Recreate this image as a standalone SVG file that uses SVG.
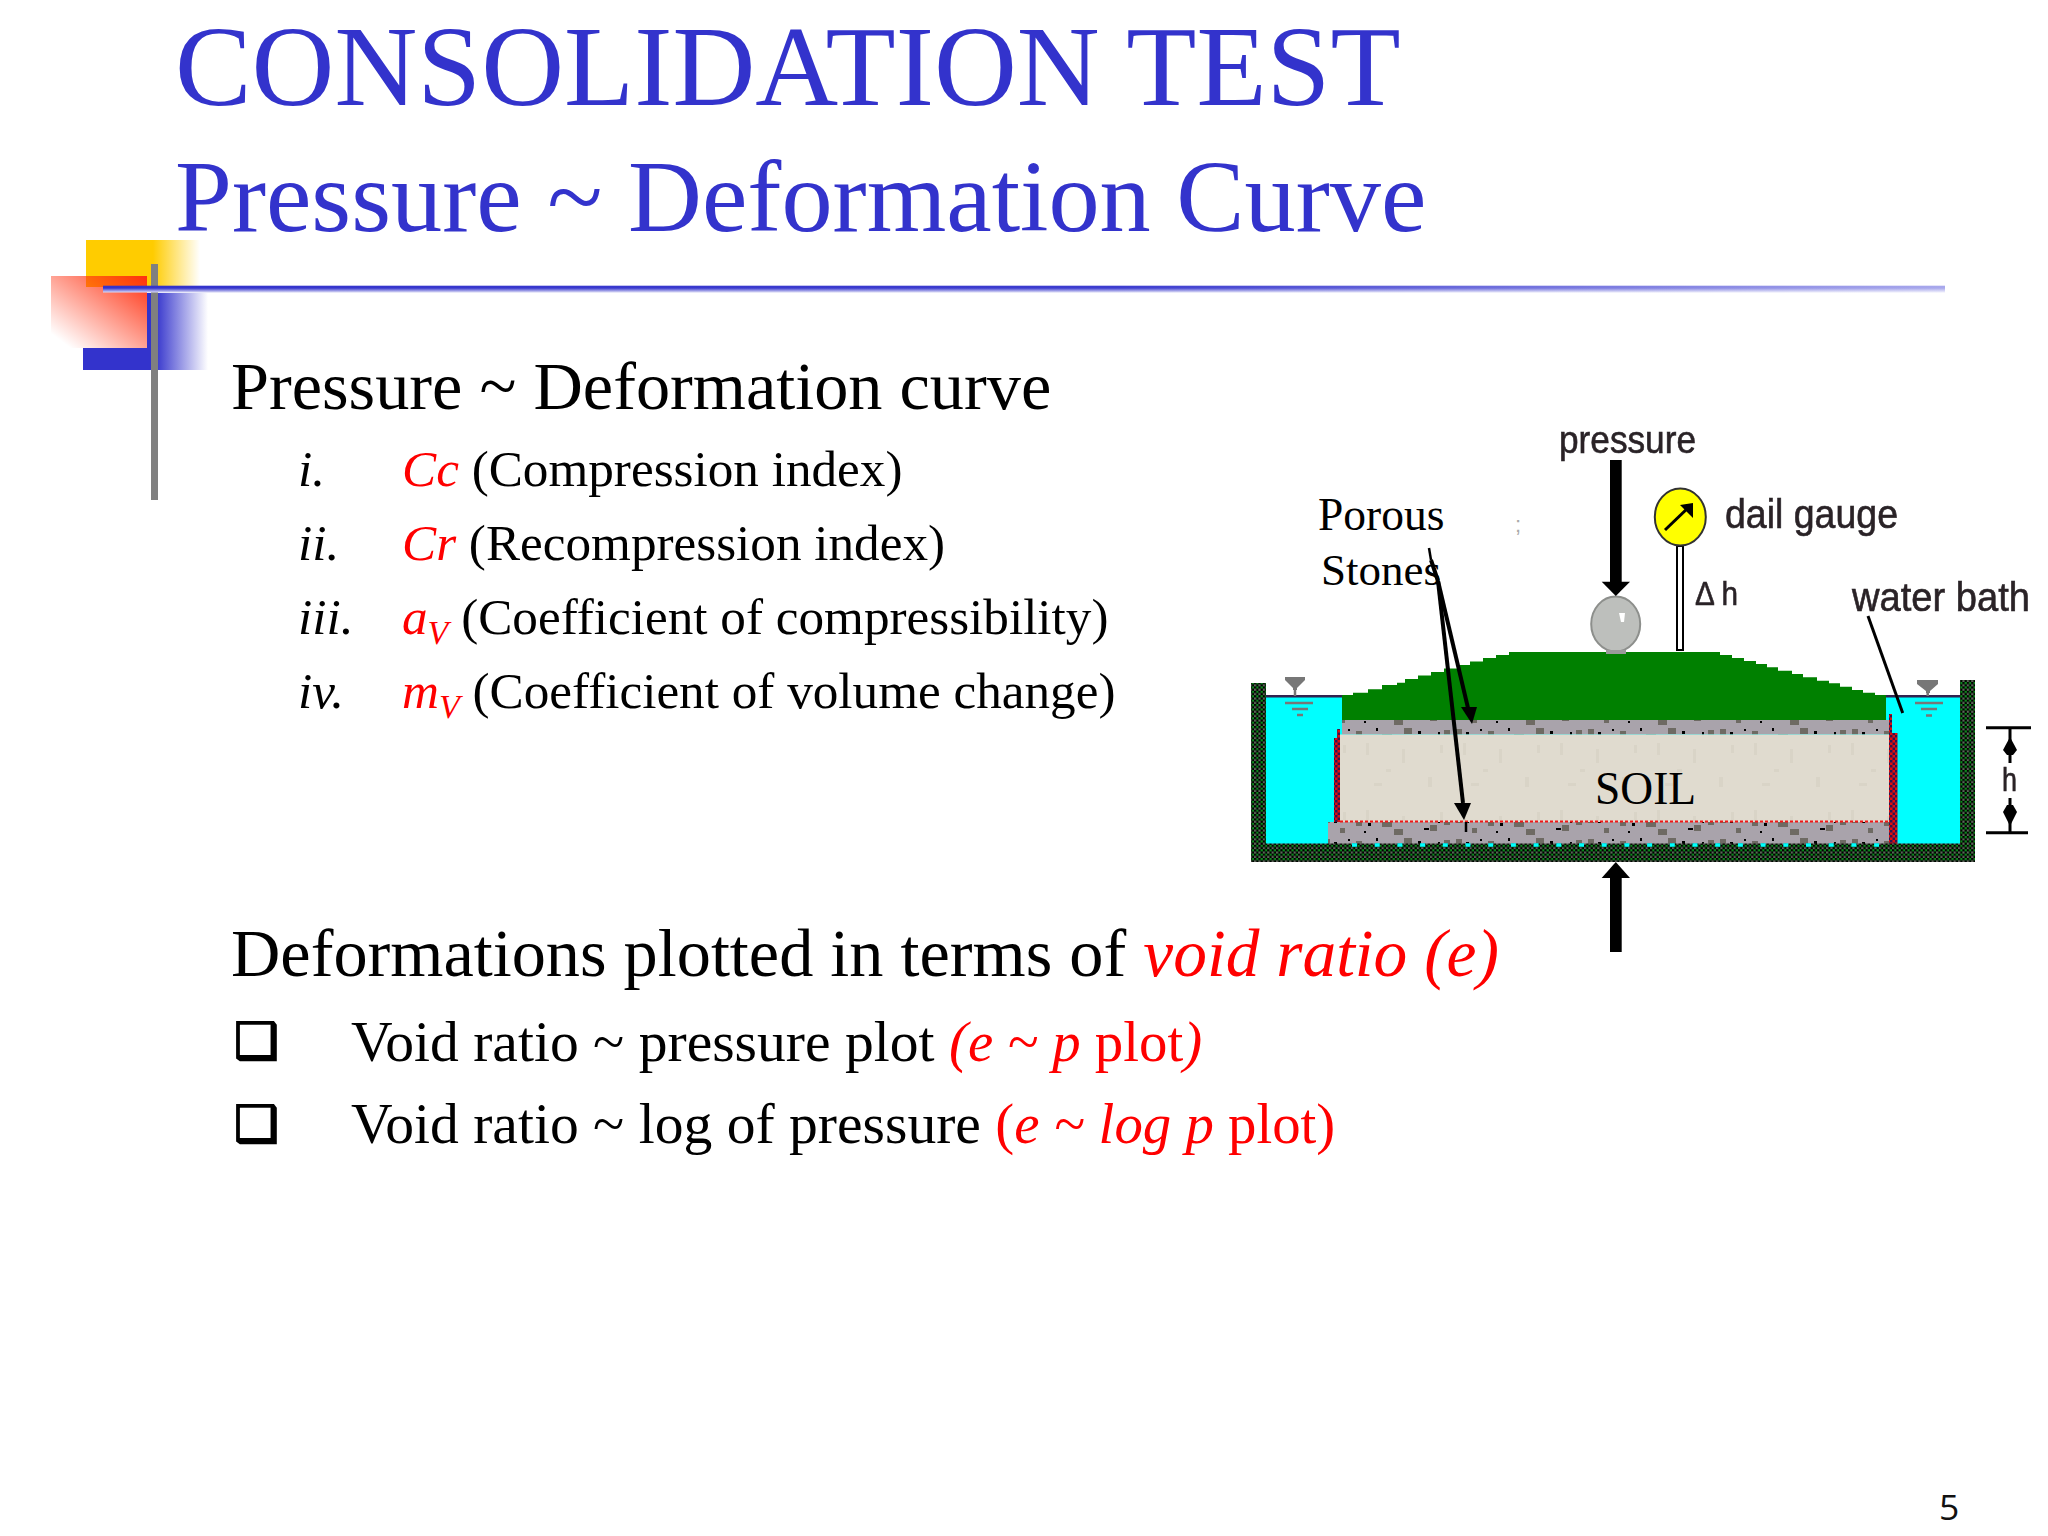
<svg xmlns="http://www.w3.org/2000/svg" width="2048" height="1536" viewBox="0 0 2048 1536">
<style>
.s{font-family:"Liberation Serif","Times New Roman",serif}
.a{font-family:"Liberation Sans",Arial,sans-serif;fill:#2a2428;stroke:#2a2428;stroke-width:.6px}
.t{fill:#3333cc}
.r{fill:#ff0000}
.k{fill:#000}
.i{font-style:italic}
.h{font-size:68.300px}
.hr{font-size:67.400px}
.l{font-size:51.200px}
.b{font-size:57.600px}
.br{font-size:56.800px}
.ld{stroke:#000;stroke-width:4;fill:none}
.bu{font-family:"DejaVu Sans",sans-serif;font-size:50px;stroke:#000;stroke-width:1.800px}
</style>
<defs>
<linearGradient id="gy" gradientUnits="userSpaceOnUse" x1="153" x2="200" y1="0" y2="0"><stop offset="0" stop-color="#ffcc00"/><stop offset="1" stop-color="#ffcc00" stop-opacity="0"/></linearGradient>
<linearGradient id="gb" gradientUnits="userSpaceOnUse" x1="155" x2="208" y1="0" y2="0"><stop offset="0" stop-color="#3333cc"/><stop offset="1" stop-color="#3333cc" stop-opacity="0"/></linearGradient>
<linearGradient id="gr" x1="1" x2="0" y1="0" y2="1"><stop offset="0" stop-color="#ff3010"/><stop offset="0.9" stop-color="#ff3010" stop-opacity="0"/></linearGradient>
<linearGradient id="gl" x1="0" x2="1" y1="0" y2="0"><stop offset="0" stop-color="#3333cc"/><stop offset="0.55" stop-color="#3c3ccf"/><stop offset="1" stop-color="#a8a8ec"/></linearGradient>
<linearGradient id="gw" x1="0" x2="0" y1="0" y2="1"><stop offset="0" stop-color="#fff" stop-opacity="0"/><stop offset="1" stop-color="#fff" stop-opacity="0.85"/></linearGradient>
<pattern id="wall" width="4.400" height="4.400" patternUnits="userSpaceOnUse"><rect width="4.400" height="4.400" fill="#000"/><rect x="2.200" width="2.200" height="2.200" fill="#0c8a1e"/><rect y="2.200" width="2.200" height="2.200" fill="#5c6658"/></pattern>
<pattern id="red" width="5" height="5" patternUnits="userSpaceOnUse"><rect width="5" height="5" fill="#e01010"/><rect width="2.500" height="2.500" fill="#301850"/><rect x="2.500" y="2.500" width="2.500" height="2.500" fill="#301850"/></pattern>
<pattern id="stone" width="132" height="22" patternUnits="userSpaceOnUse"><rect width="132" height="22" fill="#a9a3ab"/>
<g fill="#6e6b64"><rect x="4" y="3" width="6" height="6"/><rect x="36" y="5" width="6" height="7"/><rect x="62" y="8" width="10" height="5"/><rect x="84" y="2" width="8" height="6"/><rect x="110" y="11" width="7" height="6"/><rect x="20" y="14" width="5" height="5"/><rect x="74" y="15" width="9" height="6"/><rect x="124" y="4" width="6" height="7"/></g>
<g fill="#000"><rect x="14" y="6" width="3" height="3"/><rect x="28" y="3" width="2" height="2"/><rect x="48" y="9" width="3" height="3"/><rect x="56" y="2" width="2" height="3"/><rect x="98" y="5" width="3" height="3"/><rect x="104" y="14" width="5" height="2"/><rect x="118" y="6" width="2" height="3"/><rect x="44" y="17" width="2" height="2"/></g>
</pattern>
<pattern id="soil" width="97" height="67" patternUnits="userSpaceOnUse"><rect width="97" height="67" fill="#e0dbcf"/><g fill="#d9d4c7"><rect x="8" y="6" width="3" height="12"/><rect x="28" y="32" width="5" height="3"/><rect x="44" y="12" width="3" height="14"/><rect x="70" y="40" width="4" height="10"/><rect x="82" y="8" width="3" height="8"/><rect x="16" y="46" width="8" height="3"/></g></pattern>
<filter id="soft" x="-5%" y="-5%" width="110%" height="110%"><feGaussianBlur stdDeviation="0.500"/></filter>
</defs>
<rect width="2048" height="1536" fill="#fff"/>

<g id="decor">
<rect x="86" y="240" width="114" height="47" fill="url(#gy)"/>
<rect x="83" y="348" width="64" height="22" fill="#3333cc"/>
<rect x="147" y="293" width="61" height="77" fill="url(#gb)"/>
<rect x="51" y="276" width="96" height="72" fill="url(#gr)"/>
<rect x="151" y="264" width="7" height="236" fill="#808080"/>
<rect x="103" y="285.700" width="1842" height="6.500" fill="url(#gl)"/>
<rect x="103" y="288" width="1842" height="4.500" fill="url(#gw)"/>
</g>

<g id="title" class="s t">
<text x="175" y="105" font-size="114.800">CONSOLIDATION TEST</text>
<text x="175" y="231" font-size="102.300">Pressure ~ Deformation Curve</text>
</g>

<g id="text-body" class="s k">
<text x="231" y="409" class="h">Pressure ~ Deformation curve</text>
<text x="298" y="486" class="l i">i.</text>
<text x="402" y="486" class="l"><tspan class="i r">Cc</tspan> (Compression index)</text>
<text x="298" y="560" class="l i">ii.</text>
<text x="402" y="560" class="l"><tspan class="i r">Cr</tspan> (Recompression index)</text>
<text x="298" y="634" class="l i">iii.</text>
<text x="402" y="634" class="l"><tspan class="i r">a</tspan><tspan class="i r" font-size="34" dy="10">V</tspan><tspan dy="-10"> (Coefficient of compressibility)</tspan></text>
<text x="298" y="708" class="l i">iv.</text>
<text x="402" y="708" class="l"><tspan class="i r">m</tspan><tspan class="i r" font-size="34" dy="10">V</tspan><tspan dy="-10"> (Coefficient of volume change)</tspan></text>
<text x="231" y="976" class="h">Deformations plotted in terms of <tspan class="i r hr">void ratio (e)</tspan></text>
<text x="351" y="1061" class="b">Void ratio ~ pressure plot <tspan class="i r br">(e ~ p</tspan><tspan class="r br"> plot</tspan><tspan class="i r br">)</tspan></text>
<text x="351" y="1143" class="b">Void ratio ~ log of pressure <tspan class="r br">(</tspan><tspan class="i r br">e ~ log p</tspan><tspan class="r br"> plot)</tspan></text>
<text x="234" y="1058" class="bu">❑</text>
<text x="234" y="1141" class="bu">❑</text>
</g>

<g id="apparatus" filter="url(#soft)">
<rect x="1265" y="697" width="696" height="147" fill="#00ffff"/>
<path d="M1265 696.300H1961" stroke="#302050" stroke-width="2.500" fill="none"/>
<polygon fill="#008000" points="1342,720 1342,695 1353,695 1353,692.700 1368,692.700 1368,689.300 1382,689.300 1382,685 1397,685 1397,682.700 1405,682.700 1405,679 1418,679 1418,675.500 1431,675.500 1431,672 1444,672 1444,668.500 1457,668.500 1457,665 1470,665 1470,661.500 1483,661.500 1483,658 1496,658 1496,655 1509,655 1509,652 1720,652 1720,655 1732,655 1732,658 1744,658 1744,661 1756,661 1756,664 1767,664 1767,667.300 1778,667.300 1778,670.700 1792,670.700 1792,674 1803,674 1803,677.300 1817,677.300 1817,680.700 1829,680.700 1829,683.300 1840,683.300 1840,686.700 1852,686.700 1852,690 1863,690 1863,692.700 1875,692.700 1875,695 1886,695 1886,720"/>
<rect x="1342" y="720" width="547" height="14.500" fill="url(#stone)"/>
<rect x="1340" y="734.500" width="549" height="87.500" fill="url(#soil)"/>
<rect x="1328" y="822" width="561" height="22" fill="url(#stone)"/>
<path d="M1340 821.500H1889" stroke="#f01818" stroke-width="2" stroke-dasharray="3 2" fill="none"/>
<path fill="url(#red)" d="M1334 822V738h3v-9h3v93z"/>
<path fill="url(#red)" d="M1889 844V714h3v19h5.500v111z"/>
<path fill="url(#wall)" d="M1251 683h15v160.500h694V680h15v182H1251z"/>
<path d="M1352 845H1885" stroke="#00ffff" stroke-width="3.500" stroke-dasharray="5 17.700" fill="none"/>
</g>

<g id="weights" filter="url(#soft)">
<ellipse cx="1615.700" cy="624" rx="24.500" ry="27.500" fill="#bdbfbc" stroke="#8d8f8c" stroke-width="2"/>
<rect x="1606" y="650" width="20" height="4" fill="#9a9a9a"/>
<path d="M1619 613h6l-1 9h-3z" fill="#fff"/>
<rect x="1610" y="460" width="11.700" height="122" fill="#000"/>
<polygon points="1601.700,581.700 1630,581.700 1615.800,596" fill="#000"/>
<rect x="1610" y="878" width="11.700" height="74" fill="#000"/>
<polygon points="1601.700,878 1630,878 1615.800,862" fill="#000"/>
</g>

<g id="gauge" filter="url(#soft)">
<rect x="1677" y="546" width="6" height="104" fill="#fff" stroke="#000" stroke-width="2"/>
<ellipse cx="1680.300" cy="517" rx="25.500" ry="28.500" fill="#ffff00" stroke="#333" stroke-width="2"/>
<path d="M1665 530L1689 507" stroke="#000" stroke-width="3" fill="none"/>
<polygon points="1693,503 1693,518 1680,505" fill="#000"/>
</g>

<g id="levels" filter="url(#soft)">
<polygon fill="#777" points="1285,677 1305,677 1305,680 1297,688 1297,690 1293,690 1293,688 1285,680"/>
<polygon fill="#777" points="1917,680 1938,680 1938,684 1930,691 1930,693 1926,693 1926,691 1917,684"/>
<path d="M1295 690V696M1285 703H1313M1292 709H1308M1297 715H1303M1927.700 693V696M1915 703H1943M1921 709H1937M1926 715.500H1932" stroke="#777" stroke-width="2.500" fill="none"/>
</g>

<g id="connectors">
<path class="ld" style="stroke-width:2.500px" d="M1429 548L1431 560"/>
<path class="ld" d="M1431 560L1438 581"/>
<path class="ld" d="M1438 581L1468 708"/>
<polygon points="1461,707 1477,707 1472,724"/>
<path class="ld" d="M1438 581L1463 803"/>
<polygon points="1454,803 1471,803 1464,820"/>
<path class="ld" style="stroke-width:2.500px" d="M1466 822V832"/>
<path class="ld" style="stroke-width:3px" d="M1868 616L1902.700 713"/>
</g>

<g id="dimension">
<path d="M1986 727.700H2031M1986 832.700H2028M2010 727.700V763M2010 798V832.700" stroke="#000" stroke-width="3" fill="none"/>
<path d="M2010 737L2017 750L2013 755H2007L2003 750Z"/>
<path d="M2007 805H2013L2017 812L2010 826L2003 812Z"/>
</g>

<g id="labels" filter="url(#soft)">
<text class="a" x="1559" y="453" font-size="39" textLength="137" lengthAdjust="spacingAndGlyphs">pressure</text>
<text class="a" x="1725" y="527.500" font-size="41" textLength="173" lengthAdjust="spacingAndGlyphs">dail gauge</text>
<text class="a" x="1852" y="611" font-size="40" textLength="178" lengthAdjust="spacingAndGlyphs">water bath</text>
<text class="a" x="1695" y="605" font-size="33" textLength="43" lengthAdjust="spacingAndGlyphs">Δ h</text>
<text class="a" x="2002" y="791" font-size="33" textLength="15" lengthAdjust="spacingAndGlyphs">h</text>
</g>
<g id="labels2">
<text class="s k" x="1318" y="530" font-size="45.500">Porous</text>
<text class="s k" x="1321" y="585" font-size="45">Stones</text>
<text class="s k" x="1595" y="804" font-size="45.500">SOIL</text>
<text x="1515" y="532" font-size="22" style="font-family:'Liberation Sans',sans-serif;fill:#aaa">;</text>
</g>

<text id="page" x="1939" y="1519.500" font-size="35.500" style="font-family:'Open Sans',sans-serif;fill:#111">5</text>
</svg>
